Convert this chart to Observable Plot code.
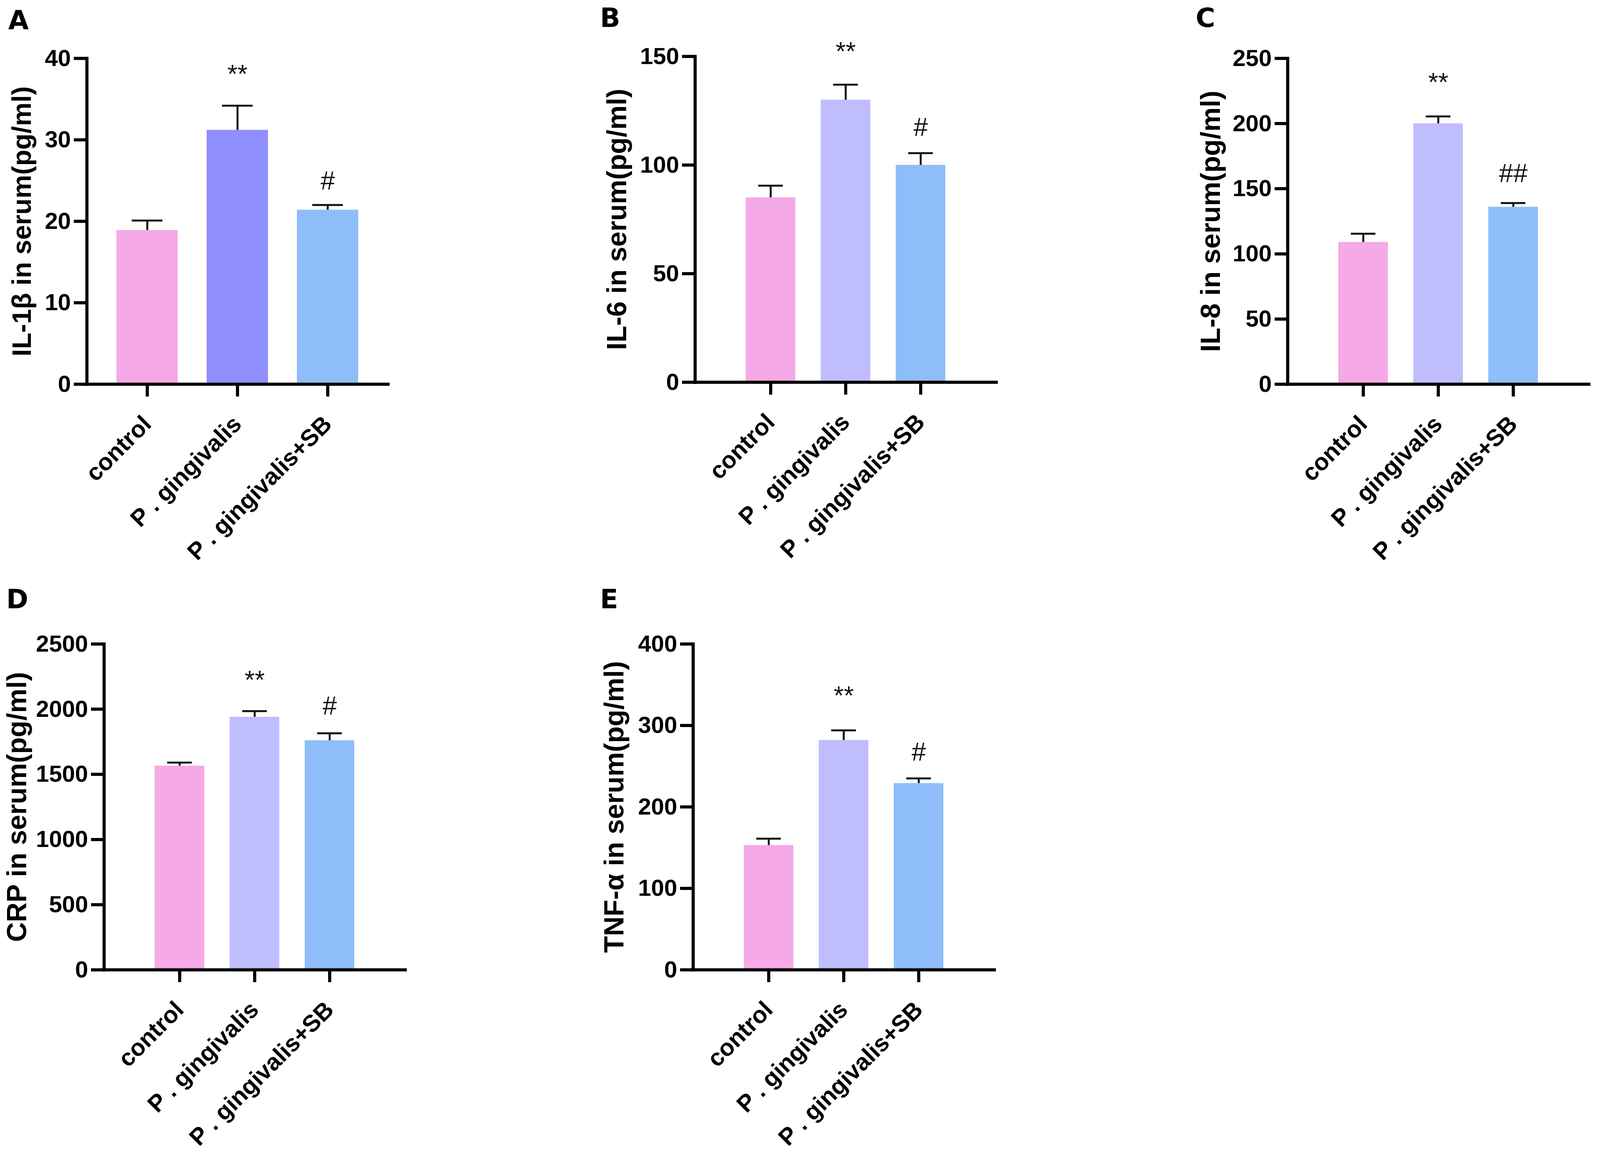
<!DOCTYPE html>
<html lang="en">
<head>
<meta charset="UTF-8">
<title>Serum cytokines</title>
<script src="https://cdn.jsdelivr.net/npm/d3@7"></script>
<script src="https://cdn.jsdelivr.net/npm/@observablehq/plot@0.6/dist/plot.umd.min.js"></script>
<style>
  html, body { margin: 0; background: #fff; }
  /* the window really opens 4096 wide, so the layout is fitted to that */
  #page { position: relative; width: 4096px; height: 2959px; overflow: hidden; }
  .panel { position: absolute; }
  .letter { position: absolute; font: bold 68px "DejaVu Sans"; line-height: 1; color: #000; }
</style>
</head>
<body>
<div id="page"></div>
<script>
const groups = ["control", "P . gingivalis", "P . gingivalis+SB"];
const annotations = ["", "**", "#"];
const annotationsC = ["", "**", "##"];

// bar height, top of error bar, height of the star/hash
const meanA = [18.9, 31.2, 21.4];
const upperA = [20.1, 34.2, 22.0];
const noteA = [null, 38.1, 25];
const ticksA = [0, 10, 20, 30, 40];

const meanB = [85, 130, 100];
const upperB = [90.5, 137, 105.5];
const noteB = [null, 152.5, 117.5];
const ticksB = [0, 50, 100, 150];

const meanC = [109, 200, 136];
const upperC = [115.5, 205.5, 139];
const noteC = [null, 232, 162];
const ticksC = [0, 50, 100, 150, 200, 250];

const meanD = [1565, 1940, 1760];
const upperD = [1590, 1985, 1815];
const noteD = [null, 2227, 2028];
const ticksD = [0, 500, 1000, 1500, 2000, 2500];

const meanE = [153, 282, 229];
const upperE = [161, 294, 235];
const noteE = [null, 337, 268];
const ticksE = [0, 100, 200, 300, 400];

const pink = "#f5a9e6", lavender = "#c0bdff", violet = "#8f8fff", blue = "#8fbdfa";

const marginTop = 130, marginBottom = 520, marginRight = 30;
const frameW = 771, frameH = 834;

function panel(cfg) {
  const notes = cfg.notes || annotations;
  const data = groups.map((group, i) => ({
    group, mean: cfg.mean[i], upper: cfg.upper[i], note: notes[i], level: cfg.note[i]
  }));
  const hasNote = data.filter(d => d.level != null);
  const capInset = cfg.barW / 4;
  const marginLeft = cfg.labelOffset + 55;

  const plot = Plot.plot({
    width: marginLeft + frameW + marginRight,
    height: marginTop + frameH + marginBottom,
    marginLeft, marginTop, marginBottom, marginRight,
    style: { fontFamily: "Liberation Sans", background: "transparent", color: "#000" },
    x: { domain: groups, paddingInner: cfg.inner, paddingOuter: cfg.outer, label: null },
    y: { domain: [0, cfg.ticks[cfg.ticks.length - 1]], label: null },
    color: { domain: groups, range: cfg.colors },
    marks: [
      Plot.barY(data, { x: "group", y: "mean", fill: "group" }),
      Plot.ruleX(data, { x: "group", y1: "mean", y2: "upper", stroke: "#111", strokeWidth: 5 }),
      Plot.tickY(data, { x: "group", y: "upper", stroke: "#111", strokeWidth: 5, insetLeft: capInset, insetRight: capInset }),
      Plot.text(hasNote, { x: "group", y: "level", text: "note", fontSize: 66, dy: 2, fill: "#111" }),
      Plot.frame({ anchor: "left", stroke: "#000", strokeWidth: 8 }),
      Plot.frame({ anchor: "bottom", stroke: "#000", strokeWidth: 8 }),
      Plot.axisY({
        ticks: cfg.ticks, tickFormat: "d", tickSize: 33, tickPadding: 8, strokeWidth: 8,
        fontWeight: "bold", fontSize: 60, fill: "#000", stroke: "#000"
      }),
      Plot.axisX({
        tickSize: 32, tickPadding: 60, tickRotate: -45, strokeWidth: 8, label: null,
        fontWeight: "bold", fontSize: 61, fill: "#000", stroke: "#000"
      }),
      // drawn as its own text so the offset from the axis can differ per panel
      Plot.text([cfg.title], {
        frameAnchor: "left", textAnchor: "middle", dx: -cfg.labelOffset, rotate: -90, fontSize: cfg.labelSize,
        fontWeight: "bold", fill: "#000"
      })
    ]
  });
  plot.classList.add("panel");
  plot.style.left = (cfg.axisX - marginLeft) + "px";
  plot.style.top = (cfg.topY - marginTop) + "px";
  document.querySelector("#page").append(plot);

  const letter = document.createElement("div");
  letter.className = "letter";
  letter.textContent = cfg.letter;
  letter.style.left = cfg.letterX + "px";
  letter.style.top = cfg.letterY + "px";
  document.querySelector("#page").append(letter);
}

const wideBars = { barW: 157, inner: 0.322, outer: 0.328 };
const narrowBars = { barW: 128, inner: 0.338, outer: 0.669 };

panel({ ...wideBars, letter: "A", letterX: 21, letterY: 18, axisX: 222, topY: 149, title: "IL-1β in serum(pg/ml)", labelOffset: 165, labelSize: 68,
  mean: meanA, upper: upperA, note: noteA, ticks: ticksA, colors: [pink, violet, blue] });
panel({ ...narrowBars, letter: "B", letterX: 1536, letterY: 12, axisX: 1779, topY: 144, title: "IL-6 in serum(pg/ml)", labelOffset: 199, labelSize: 70,
  mean: meanB, upper: upperB, note: noteB, ticks: ticksB, colors: [pink, lavender, blue] });
panel({ ...narrowBars, letter: "C", letterX: 3061, letterY: 12, axisX: 3296, topY: 149, title: "IL-8 in serum(pg/ml)", labelOffset: 196, labelSize: 70,
  mean: meanC, upper: upperC, note: noteC, notes: annotationsC, ticks: ticksC, colors: [pink, lavender, blue] });
panel({ ...narrowBars, letter: "D", letterX: 16, letterY: 1500, axisX: 266, topY: 1648, title: "CRP in serum(pg/ml)", labelOffset: 222, labelSize: 70,
  mean: meanD, upper: upperD, note: noteD, ticks: ticksD, colors: [pink, lavender, blue] });
panel({ ...narrowBars, letter: "E", letterX: 1536, letterY: 1500, axisX: 1774, topY: 1648, title: "TNF-α in serum(pg/ml)", labelOffset: 201, labelSize: 70,
  mean: meanE, upper: upperE, note: noteE, ticks: ticksE, colors: [pink, lavender, blue] });
</script>
</body>
</html>
